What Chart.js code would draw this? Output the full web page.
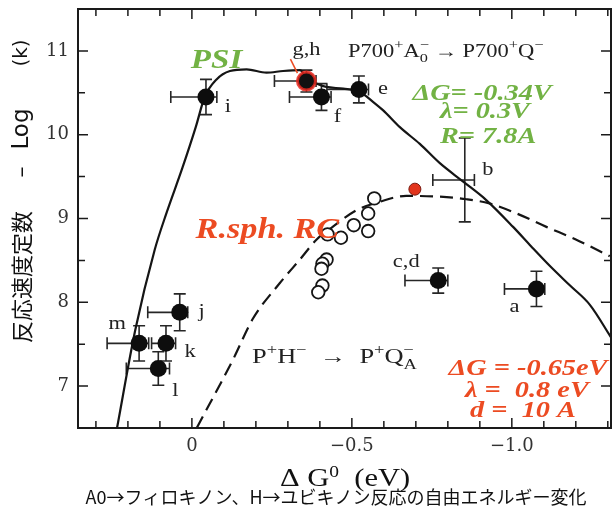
<!DOCTYPE html>
<html>
<head>
<meta charset="utf-8">
<script src="https://cdn.jsdelivr.net/npm/chart.js@4.4.1/dist/chart.umd.min.js"></script>
<style>
  html, body { margin: 0; padding: 0; background: #fff; }
  canvas { display: block; }
</style>
</head>
<body>
<canvas id="chart" width="613" height="517"></canvas>
<script>
// PSI points (P700+A0- -> P700+Q-): ΔG0 (eV) and -log k
const psiNames = ['a', 'b', 'c,d', 'e', 'f', 'g,h', 'i', 'j', 'k', 'l', 'm'];
const psiX = [-1.077, -0.853, -0.77, -0.522, -0.405, -0.358, -0.044, 0.038, 0.081, 0.105, 0.165];
const psiY = [8.16, 9.46, 8.26, 10.54, 10.45, 10.64, 10.45, 7.88, 7.51, 7.21, 7.51];
// x error toward positive ΔG (left side) and toward negative ΔG (right side), y error
const psiErrXLo = [0.1, 0.1, 0.104, 0.1, 0.1, 0.1, 0.11, 0.1, 0.045, 0.1, 0.1];
const psiErrXHi = [0.026, 0.03, 0.03, 0.03, 0.03, 0.03, 0.034, 0.025, 0.03, 0.035, 0.03];
const psiErrY = [0.21, 0.5, 0.15, 0.16, 0.16, 0.13, 0.21, 0.22, 0.21, 0.2, 0.21];

// R.sph. RC open circles (P+H- -> P+QA-)
const rcX = [-0.570, -0.551, -0.551, -0.506, -0.466, -0.424, -0.421, -0.408, -0.405, -0.408, -0.395];
const rcY = [9.24, 9.06, 8.85, 8.92, 8.77, 8.81, 8.51, 8.46, 8.40, 8.20, 8.12];
const rcRedX = [-0.697];
const rcRedY = [9.35];

// fitted curves
const psiFitX = [0.234, 0.177, 0.116, 0.079, 0.03, -0.012, -0.040, -0.077, -0.119, -0.171, -0.233, -0.285,
  -0.338, -0.358, -0.389, -0.42, -0.473, -0.525, -0.567, -0.598, -0.65, -0.7125, -0.775, -0.848, -0.92,
  -1.004, -1.06, -1.12, -1.182, -1.244, -1.312];
const psiFitY = [6.5, 7.67, 8.63, 9.07, 9.60, 10.09, 10.45, 10.66, 10.76, 10.78, 10.74, 10.76,
  10.77, 10.68, 10.61, 10.57, 10.55, 10.51, 10.39, 10.29, 10.09, 9.89, 9.66, 9.44, 9.22,
  8.90, 8.67, 8.43, 8.20, 7.97, 7.57];
const rcFitX = [-0.015, -0.129, -0.19, -0.275, -0.3375, -0.39, -0.44, -0.515, -0.5875, -0.67, -0.775,
  -0.858, -0.93, -1.015, -1.108, -1.20, -1.306];
const rcFitY = [6.5, 7.32, 7.80, 8.23, 8.51, 8.75, 8.90, 9.10, 9.20, 9.27, 9.26,
  9.23, 9.18, 9.06, 8.90, 8.75, 8.55];

const xTickVals = [0, -0.5, -1.0];
const xTickLabels = ['0', '\u22120.5', '\u22121.0'];
const xMinorTicks = [0.3, 0.2, 0.1, 0, -0.1, -0.2, -0.3, -0.4, -0.5, -0.6, -0.7, -0.8, -0.9, -1.0, -1.1, -1.2, -1.3];
const yTickVals = [7, 8, 9, 10, 11];
const yMinorTicks = [7, 7.5, 8, 8.5, 9, 9.5, 10, 10.5, 11];

const SERIF = '"Liberation Serif", "Times New Roman", serif';
const GREEN = '#72b244';
const RED = '#ec4b22';
const stretch = 1.18;

// label offsets in px from their points
const labelOffsets = {
  'a': [-22, 18], 'b': [23, -10], 'c,d': [-32, -18], 'e': [24, 0], 'f': [16, 20], 'g,h': [0, -31],
  'i': [22, 10], 'j': [22, 0], 'k': [24, 9], 'l': [17, 23], 'm': [-22, -19]
};

function stretched(ctx, text, px, py, font, color, baseline) {
  ctx.save();
  ctx.translate(px, py);
  ctx.scale(stretch, 1);
  ctx.font = font;
  ctx.fillStyle = color;
  ctx.textAlign = 'center';
  ctx.textBaseline = baseline || 'alphabetic';
  ctx.fillText(text, 0, 0);
  ctx.restore();
}

function rich(ctx, parts, px, py, color, sx) {
  ctx.save();
  ctx.translate(px, py);
  ctx.scale(sx || stretch, 1);
  ctx.fillStyle = color;
  ctx.textAlign = 'left';
  ctx.textBaseline = 'alphabetic';
  let cx = 0;
  parts.forEach(([t, font, dy = 0, stay = false]) => {
    ctx.font = font;
    ctx.fillText(t, cx, dy);
    if (!stay) cx += ctx.measureText(t).width;
  });
  ctx.restore();
}

const errorBars = {
  id: 'errorBars',
  beforeDatasetsDraw(chart) {
    const { ctx, scales: { x, y } } = chart;
    ctx.save();
    ctx.strokeStyle = '#262626';
    ctx.lineWidth = 1.6;
    ctx.beginPath();
    psiX.forEach((v, i) => {
      const cx = x.getPixelForValue(v), cy = y.getPixelForValue(psiY[i]);
      const xl = x.getPixelForValue(v + psiErrXLo[i]);
      const xr = x.getPixelForValue(v - psiErrXHi[i]);
      const yt = y.getPixelForValue(psiY[i] + psiErrY[i]);
      const yb = y.getPixelForValue(psiY[i] - psiErrY[i]);
      ctx.moveTo(xl, cy); ctx.lineTo(xr, cy);
      ctx.moveTo(cx, yt); ctx.lineTo(cx, yb);
      ctx.moveTo(xl, cy - 6); ctx.lineTo(xl, cy + 6);
      ctx.moveTo(xr, cy - 6); ctx.lineTo(xr, cy + 6);
      ctx.moveTo(cx - 6, yt); ctx.lineTo(cx + 6, yt);
      ctx.moveTo(cx - 6, yb); ctx.lineTo(cx + 6, yb);
    });
    ctx.stroke();
    ctx.restore();
  }
};

const decorations = {
  id: 'decorations',
  afterDraw(chart) {
    const { ctx, chartArea: a, scales: { x, y } } = chart;

    // frame with inward ticks
    ctx.save();
    ctx.strokeStyle = '#1a1a1a';
    ctx.lineWidth = 2;
    ctx.strokeRect(a.left, a.top, a.right - a.left, a.bottom - a.top);
    ctx.lineWidth = 1.5;
    ctx.beginPath();
    xMinorTicks.forEach(v => {
      const px = x.getPixelForValue(v);
      const len = xTickVals.includes(v) ? 10 : 7;
      ctx.moveTo(px, a.bottom); ctx.lineTo(px, a.bottom - len);
      ctx.moveTo(px, a.top); ctx.lineTo(px, a.top + len);
    });
    yMinorTicks.forEach(v => {
      const py = y.getPixelForValue(v);
      const len = yTickVals.includes(v) ? 10 : 7;
      ctx.moveTo(a.left, py); ctx.lineTo(a.left + len, py);
      ctx.moveTo(a.right, py); ctx.lineTo(a.right - len, py);
    });
    ctx.stroke();
    ctx.restore();

    // point letters and the red pointer to g,h
    psiNames.forEach((n, i) => {
      const px = x.getPixelForValue(psiX[i]), py = y.getPixelForValue(psiY[i]);
      const [dx, dy] = labelOffsets[n];
      stretched(ctx, n, px + dx, py + dy, '19px ' + SERIF, '#222', 'middle');
      if (n === 'g,h') {
        ctx.save();
        ctx.strokeStyle = RED;
        ctx.lineWidth = 1.5;
        ctx.beginPath();
        ctx.moveTo(px - 16, py - 22);
        ctx.lineTo(px - 9, py - 8);
        ctx.stroke();
        ctx.restore();
      }
    });

    const F = '18px ' + SERIF, S = '13px ' + SERIF;
    rich(ctx, [['P700', F], ['+', S, -8], ['A', F], ['0', S, 5, true], ['\u2212', S, -8],
      [' \u2192 P700', F], ['+', S, -8], ['Q', F], ['\u2212', S, -8]],
      x.getPixelForValue(-0.488), y.getPixelForValue(10.93), '#222', 1.25);

    const F2 = '20px ' + SERIF, S2 = '14px ' + SERIF;
    rich(ctx, [['P', F2], ['+', S2, -9], ['H', F2], ['\u2212', S2, -9], ['  \u2192  P', F2], ['+', S2, -9],
      ['Q', F2], ['A', S2, 6, true], ['\u2212', S2, -9]],
      x.getPixelForValue(-0.188), y.getPixelForValue(7.276), '#222', 1.32);

    const BI = (s) => 'italic bold ' + s + 'px ' + SERIF;
    stretched(ctx, 'PSI', x.getPixelForValue(-0.077), y.getPixelForValue(10.796), BI(28), GREEN);
    stretched(ctx, 'R.sph. RC', x.getPixelForValue(-0.236), y.getPixelForValue(8.767), BI(29), RED);

    stretched(ctx, '\u0394G= -0.34V', x.getPixelForValue(-0.907), y.getPixelForValue(10.414), BI(24), GREEN);
    stretched(ctx, '\u03bb= 0.3V', x.getPixelForValue(-0.916), y.getPixelForValue(10.199), BI(24), GREEN);
    stretched(ctx, 'R= 7.8A', x.getPixelForValue(-0.926), y.getPixelForValue(9.901), BI(24), GREEN);

    stretched(ctx, '\u0394G = -0.65eV', x.getPixelForValue(-1.0506), y.getPixelForValue(7.132), BI(24), RED);
    stretched(ctx, '\u03bb =  0.8 eV', x.getPixelForValue(-1.047), y.getPixelForValue(6.870), BI(24), RED);
    stretched(ctx, 'd =  10 A', x.getPixelForValue(-1.035), y.getPixelForValue(6.631), BI(24), RED);

    // x axis title and caption
    const T = '25px ' + SERIF, T0 = '16px ' + SERIF;
    rich(ctx, [['\u0394', T], [' G', T], ['0', T0, -9], ['  (eV)', T]], 280, 486, '#111', 1.22);
    ctx.save();
    ctx.font = '18px "Noto Sans CJK JP"';
    ctx.fillStyle = '#111';
    ctx.textAlign = 'center';
    ctx.textBaseline = 'middle';
    ctx.fillText('A0\u2192フィロキノン、H\u2192ユビキノン反応の自由エネルギー変化', 336, 497);
    ctx.restore();

    // y axis title, rotated
    const yTitle = [
      ['反応速度定数', 277, '22px "Noto Sans CJK JP"'],
      ['\u2013', 172, '22px "DejaVu Sans"'],
      ['Log', 129, '23px "DejaVu Sans"'],
      ['(k)', 53, '20px "DejaVu Sans"']
    ];
    yTitle.forEach(([t, cy, font]) => {
      ctx.save();
      ctx.translate(22, cy);
      ctx.rotate(-Math.PI / 2);
      ctx.font = font;
      ctx.fillStyle = '#111';
      ctx.textAlign = 'center';
      ctx.textBaseline = 'middle';
      ctx.fillText(t, 0, 0);
      ctx.restore();
    });
  }
};

const toPts = (xs, ys) => xs.map((v, i) => ({ x: v, y: ys[i] }));
const filledPts = psiNames.map((n, i) => ({ x: psiX[i], y: psiY[i], n }))
  .filter(p => p.n !== 'b' && p.n !== 'g,h');
const highlightPts = psiNames.map((n, i) => ({ x: psiX[i], y: psiY[i], n }))
  .filter(p => p.n === 'g,h');

new Chart(document.getElementById('chart'), {
  type: 'scatter',
  data: {
    datasets: [
      { data: highlightPts, pointRadius: 9, backgroundColor: '#111', borderColor: 'rgba(232,40,30,0.85)', borderWidth: 3 },
      { data: filledPts, pointRadius: 8.5, backgroundColor: '#0d0d0d', borderWidth: 0 },
      { data: toPts(rcX, rcY), pointRadius: 6.3, backgroundColor: '#fff', borderColor: '#151515', borderWidth: 1.8 },
      { data: toPts(rcRedX, rcRedY), pointRadius: 6, backgroundColor: '#e2341c', borderColor: '#7a1a10', borderWidth: 1 },
      { data: toPts(psiFitX, psiFitY), showLine: true, pointRadius: 0, borderColor: '#151515', borderWidth: 2.2,
        cubicInterpolationMode: 'monotone' },
      { data: toPts(rcFitX, rcFitY), showLine: true, pointRadius: 0, borderColor: '#151515', borderWidth: 2.2,
        borderDash: [13, 7], cubicInterpolationMode: 'monotone' }
    ]
  },
  options: {
    responsive: false,
    animation: false,
    devicePixelRatio: 1,
    layout: { autoPadding: false, padding: { top: 9, right: 2, left: 0, bottom: 0 } },
    plugins: { legend: { display: false }, tooltip: { enabled: false } },
    scales: {
      x: {
        type: 'linear',
        min: -1.31,
        max: 0.356,
        reverse: true,
        afterBuildTicks: s => { s.ticks = xTickVals.map(v => ({ value: v })); },
        afterFit: s => { s.height = 89; s.paddingLeft = 0; s.paddingRight = 0; },
        grid: { display: false, drawTicks: false },
        border: { display: false },
        ticks: {
          padding: 8,
          color: '#333',
          maxRotation: 0,
          autoSkip: false,
          font: { family: 'DejaVu Serif', size: 18 },
          callback: (v, i) => xTickLabels[i]
        }
      },
      y: {
        min: 6.5,
        max: 11.5,
        afterBuildTicks: s => { s.ticks = yTickVals.map(v => ({ value: v })); },
        afterFit: s => { s.width = 78; s.paddingTop = 0; s.paddingBottom = 0; },
        grid: { display: false, drawTicks: false },
        border: { display: false },
        ticks: {
          padding: 9,
          color: '#333',
          font: { family: 'DejaVu Serif', size: 18 }
        }
      }
    }
  },
  plugins: [errorBars, decorations]
});
</script>
</body>
</html>
